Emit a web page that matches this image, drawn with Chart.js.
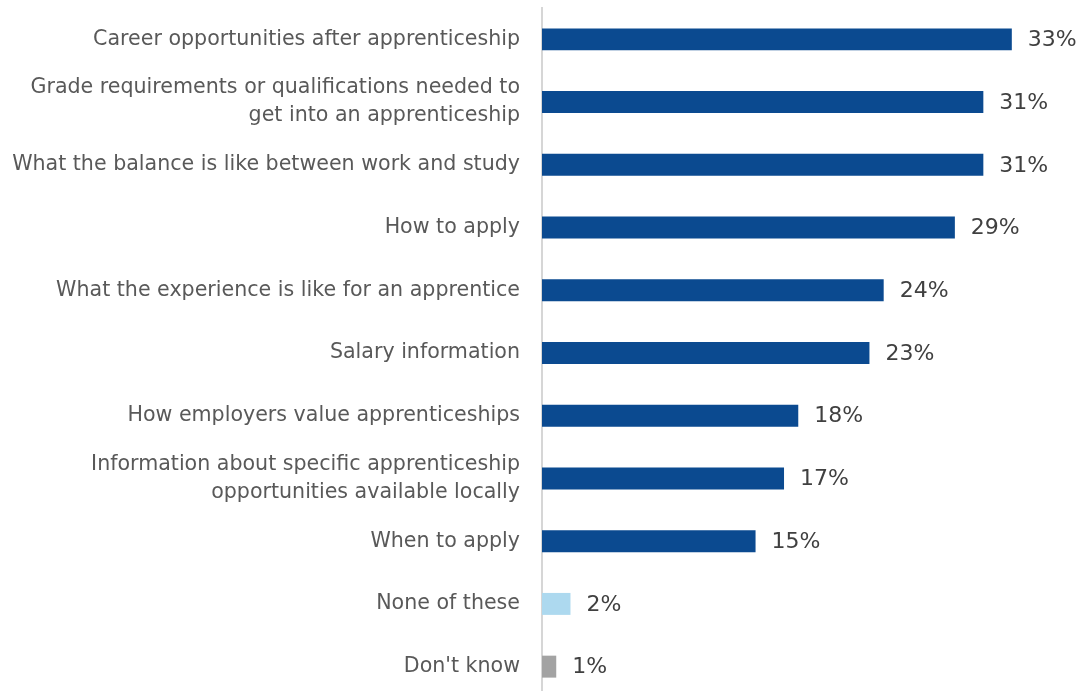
<!DOCTYPE html>
<html>
<head>
<meta charset="utf-8">
<script src="https://cdn.jsdelivr.net/npm/chart.js@4"></script>
<style>
    body { margin: 0; background: #fff; overflow: hidden; }
    #wrap { width: 1083px; height: 691px; overflow: hidden; }
</style>
</head>
<body>
<div id="wrap"><canvas id="infoChart" width="1083" height="698"></canvas></div>
<script>
// Survey answers: what information people want about apprenticeships
const categories = [
    'Career opportunities after apprenticeship',
    ['Grade requirements or qualifications needed to', 'get into an apprenticeship'],
    'What the balance is like between work and study',
    'How to apply',
    'What the experience is like for an apprentice',
    'Salary information',
    'How employers value apprenticeships',
    ['Information about specific apprenticeship', 'opportunities available locally'],
    'When to apply',
    'None of these',
    "Don't know"
];
const percentages = [33, 31, 31, 29, 24, 23, 18, 17, 15, 2, 1];
const barColours = ['#0b4a90', '#0b4a90', '#0b4a90', '#0b4a90', '#0b4a90', '#0b4a90',
    '#0b4a90', '#0b4a90', '#0b4a90', '#add9ef', '#a3a3a3'];

const fontFamily = '"DejaVu Sans", "Liberation Sans", sans-serif';

// write the "33%" style value next to each bar
const valueLabels = {
    id: 'valueLabels',
    afterDatasetsDraw(chart) {
        const ctx = chart.ctx;
        const meta = chart.getDatasetMeta(0);
        ctx.save();
        ctx.font = '22px ' + fontFamily;
        ctx.fillStyle = '#404040';
        ctx.textAlign = 'left';
        ctx.textBaseline = 'middle';
        meta.data.forEach((bar, i) => {
            ctx.fillText(percentages[i] + '%', bar.x + 16, bar.y + 1);
        });
        ctx.restore();
    }
};

const ctx = document.getElementById('infoChart').getContext('2d');
new Chart(ctx, {
    type: 'bar',
    data: {
        labels: categories,
        datasets: [{
            data: percentages,
            backgroundColor: barColours,
            barPercentage: 0.35,
            categoryPercentage: 1
        }]
    },
    options: {
        indexAxis: 'y',
        responsive: false,
        animation: false,
        layout: { padding: { top: 8, right: 0, left: 0, bottom: 0 } },
        plugins: { legend: { display: false }, tooltip: { enabled: false } },
        scales: {
            x: {
                min: 0,
                max: 38,
                display: false
            },
            y: {
                grid: { display: false, drawTicks: false },
                border: { display: true, color: '#d6d6d6', width: 2 },
                ticks: {
                    color: '#595959',
                    padding: 22,
                    font: { family: fontFamily, size: 20.6, lineHeight: 1.36 }
                },
                afterFit(scale) {
                    scale.width = 542;
                    // keep the first/last multi-line labels from shrinking the plot
                    scale.paddingTop = 0;
                    scale.paddingBottom = 0;
                }
            }
        }
    },
    plugins: [valueLabels]
});
</script>
</body>
</html>
